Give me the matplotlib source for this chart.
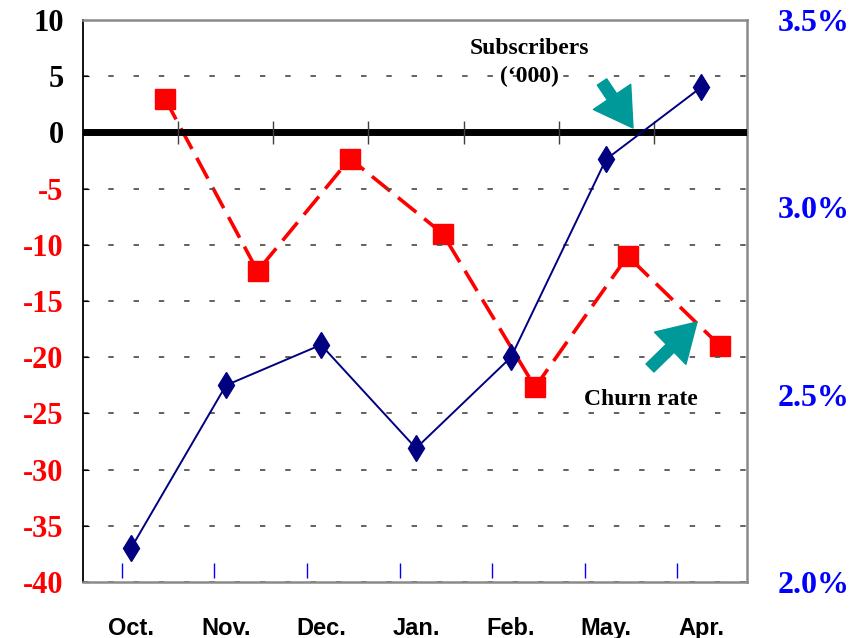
import matplotlib
matplotlib.use("Agg")
import matplotlib.pyplot as plt

plt.rcParams["axes.unicode_minus"] = False

# Monthly figures
months = ["Oct.", "Nov.", "Dec.", "Jan.", "Feb.", "May.", "Apr."]
subscribers = [-37.0, -22.5, -18.9, -28.1, -20.0, -2.4, 4.0]      # net adds, '000
churn_rate = [3.29, 2.83, 3.13, 2.93, 2.52, 2.87, 2.63]           # percent
left_ticks = [10, 5, 0, -5, -10, -15, -20, -25, -30, -35, -40]
right_ticks = [2.0, 2.5, 3.0, 3.5]
right_labels = ["2.0%", "2.5%", "3.0%", "3.5%"]

SERIF = "Liberation Serif"
SANS = "Liberation Sans"
NAVY = "#000080"
RED = "#FF0000"
TEAL = "#009999"
GRAY = "#8a8a8a"

fig = plt.figure(figsize=(8.64, 6.38), dpi=100)
rect = [83 / 864, 1 - 582 / 638, 664 / 864, 562 / 638]

# churn-rate axes (underneath, right scale)
ax_r = fig.add_axes(rect)
# subscriber axes (on top, left scale)
ax = fig.add_axes(rect)
ax.patch.set_alpha(0)

# ---- churn rate ----
xr = list(range(len(churn_rate)))
ax_r.set_xlim(-0.886, 6.29)
ax_r.set_ylim(2.0, 3.5)
ax_r.plot(xr, churn_rate, color=RED, lw=2.6, linestyle=(0, (6.5, 2.8)),
          marker="s", markersize=15, markerfacecolor=RED, markeredgecolor=RED,
          zorder=3)
ax_r.vlines([j - 0.465 for j in xr], 0.008, 0.034,
            transform=ax_r.get_xaxis_transform(), color="#0000FF", lw=1)
for s in ax_r.spines.values():
    s.set_visible(False)
ax_r.set_xticks([])
ax_r.yaxis.tick_right()
ax_r.set_yticks(right_ticks)
ax_r.set_yticklabels(right_labels)
ax_r.tick_params(axis="y", length=0, pad=22)
for lab in ax_r.get_yticklabels():
    lab.set_fontfamily(SERIF)
    lab.set_fontweight("bold")
    lab.set_fontsize(23)
    lab.set_color("#0000FF")

# ---- subscribers ----
xb = list(range(len(subscribers)))
ax.set_xlim(-0.505, 6.484)
ax.set_ylim(-40, 10)
ax.set_yticks(left_ticks)
ax.yaxis.grid(True, color="#555555", lw=1.3, linestyle=(0, (3, 11)))
ax.set_axisbelow(True)
ax.axhline(0, color="black", lw=5, zorder=3)
ax.vlines([i + 0.5 for i in range(6)], -1.05, 1.05, color="#404040",
          lw=1, zorder=4)
ax.plot(xb, subscribers, color=NAVY, lw=1.4, marker="d", markersize=13,
        markerfacecolor=NAVY, markeredgecolor=NAVY, zorder=5)

ax.set_xticks(xb)
ax.set_xticklabels(months, fontfamily=SANS, fontweight="bold", fontsize=17)
ax.tick_params(axis="x", length=0, pad=25)
ax.tick_params(axis="y", direction="in", length=4, pad=14)
for lab, v in zip(ax.get_yticklabels(), left_ticks):
    lab.set_fontfamily(SERIF)
    lab.set_fontweight("bold")
    lab.set_fontsize(22)
    lab.set_color("black" if v >= 0 else RED)

ax.spines["left"].set_color("black")
ax.spines["left"].set_linewidth(1.3)
for side in ("top", "bottom", "right"):
    ax.spines[side].set_color(GRAY)
    ax.spines[side].set_linewidth(1.8)

# ---- annotations ----
txt = dict(transform=ax.transAxes, ha="center", va="center",
           fontfamily=SERIF, fontweight="bold", fontsize=17, zorder=6)
ax.text(0.673, 0.950, "Subscribers", **txt)
ax.text(0.673, 0.900, "(\u2018000)", **txt)
ax.text(0.840, 0.324, "Churn rate", **txt)

arrow = dict(arrowstyle="simple,head_length=1.5,head_width=1.8,tail_width=0.45",
             color=TEAL, shrinkA=0, shrinkB=0, mutation_scale=18)
ax.annotate("", xy=(0.8283, 0.8078), xytext=(0.7816, 0.8897),
            xycoords="axes fraction", textcoords="axes fraction",
            arrowprops=arrow, zorder=6)
ax.annotate("", xy=(0.9247, 0.4626), xytext=(0.8539, 0.3808),
            xycoords="axes fraction", textcoords="axes fraction",
            arrowprops=arrow, zorder=6)

fig.savefig("out.png", dpi=100, facecolor="white")
